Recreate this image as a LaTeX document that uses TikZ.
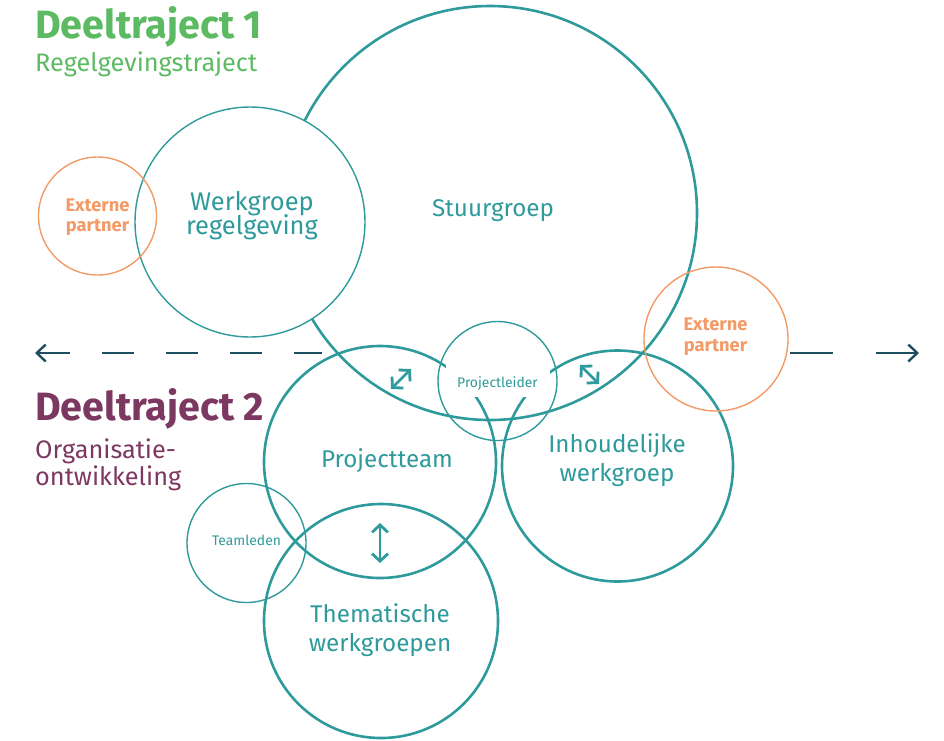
\documentclass[tikz,border=0pt]{standalone}
\usepackage{fontspec}
\setmainfont{Fira Sans}
\usepackage{xcolor}
\usetikzlibrary{arrows.meta}

\definecolor{vlteal}{HTML}{2F9A9B}
\definecolor{vloranje}{HTML}{F39A66}
\definecolor{vlgroen}{HTML}{5CBA62}
\definecolor{vlpaars}{HTML}{7D3861}
\definecolor{vldonker}{HTML}{1E4E5F}

\newcommand{\strak}{\lineskiplimit=-50pt\relax}

\tikzset{
  groot/.style    = {circle, draw=vlteal, line width=2.6pt, inner sep=0pt},
  klein/.style    = {circle, draw=vlteal, line width=1.4pt, inner sep=0pt},
  extern/.style   = {circle, draw=vloranje, line width=1.4pt, inner sep=0pt},
  tekst/.style    = {text=vlteal, align=center, inner sep=0pt,
                     font=\fontsize{24.2}{29}\selectfont\strak},
  kleintekst/.style = {text=vlteal, inner sep=0pt, font=\fontsize{13.9}{16}\selectfont},
  externtekst/.style = {text=vloranje, align=center, inner sep=0pt,
                     font=\bfseries\fontsize{18.3}{20.5}\selectfont\strak},
  tijdlijn/.style = {draw=vldonker, line width=2.4pt,
                     arrows={-Straight Barb[length=9pt,width=17pt]}},
  pijl/.style     = {draw=vlteal, line width=2.8pt,
                     arrows={Straight Barb[length=7.5pt,width=16pt]-Straight Barb[length=7.5pt,width=16pt]}},
  titel/.style    = {anchor=base west, inner sep=0pt, font=\bfseries\fontsize{39.5}{44}\selectfont},
  ondertitel/.style = {anchor=base west, inner sep=0pt, font=\fontsize{25.3}{29}\selectfont}
}

\begin{document}
\begin{tikzpicture}[x=1pt, y=-1pt]
%\draw[help lines] (0,0) grid (944,740);
\useasboundingbox (0,0) rectangle (944,740);

% tijdlijn
\coordinate (links)  at (35,353);
\coordinate (linksstop) at (322,353);
\coordinate (rechtsstart) at (790,353);
\coordinate (rechts) at (919,353);
\draw[tijdlijn, dash pattern=on 32pt off 32pt, arrows={Straight Barb[length=9pt,width=17pt]-}] (links) -- (linksstop);
\draw[tijdlijn, dash pattern=on 43pt off 43pt] (rechtsstart) -- (rechts);

% deeltraject 1
\node[groot, minimum size=414pt] (stuur) at (490,213) {};
\node[klein, fill=white, minimum size=230pt] (werk) at (250,222) {};
\node[extern, minimum size=118pt] (extern1) at (97.5,216) {};

% deeltraject 2
\node[groot, minimum size=232pt] (pteam)  at (380,462) {};
\node[groot, minimum size=231pt] (inhoud) at (617.5,466) {};
\node[groot, minimum size=234pt] (thema)  at (381,621) {};
\node[klein, minimum size=119pt] (leden)  at (246.5,543) {};
\node[klein, minimum size=119pt] (leider) at (497.5,381) {};
\node[extern, minimum size=144pt] (extern2) at (716,339) {};

% teksten
\node[tekst, anchor=base] (stuurtekst) at (493,216) {Stuurgroep};
\node[tekst, anchor=base, font=\fontsize{25.5}{20}\selectfont\strak] (werktekst) at (252,234) {Werkgroep\\[4pt]regelgeving};
\node[externtekst, anchor=base] (extern1tekst) at (97.5,231.5) {Externe\\partner};
\node[externtekst, anchor=base] (extern2tekst) at (715.5,351) {Externe\\partner};
\node[fill=white, minimum width=104pt, minimum height=32pt, inner sep=0pt] (leiderbox) at (498,381) {};
\node[kleintekst, anchor=base] (leidertekst) at (497.5,387) {Projectleider};
\node[tekst, anchor=base] (pteamtekst) at (387,467) {Projectteam};
\node[tekst, anchor=base] (inhoudtekst) at (617,481) {Inhoudelijke\\werkgroep};
\node[tekst, anchor=base] (thematekst) at (380,651) {Thematische\\werkgroepen};
\node[kleintekst, anchor=base] (ledentekst) at (246.5,545) {Teamleden};

% pijlen
\coordinate (p1a) at (391,389);
\coordinate (p1b) at (411,369);
\coordinate (p2a) at (580,365);
\coordinate (p2b) at (599,384);
\coordinate (p3a) at (380,523);
\coordinate (p3b) at (380,563);
\draw[pijl] (p1a) -- (p1b);
\draw[pijl] (p2a) -- (p2b);
\draw[pijl] (p3a) -- (p3b);

% titels
\node[titel, text=vlgroen] (dt1) at (35,38) {Deeltraject 1};
\node[ondertitel, text=vlgroen] (dt1sub) at (35,71.5) {Regelgevingstraject};
\node[titel, text=vlpaars] (dt2) at (35,420) {Deeltraject 2};
\node[ondertitel, text=vlpaars] (dt2sub1) at (35,458) {Organisatie-};
\node[ondertitel, text=vlpaars] (dt2sub2) at (35,485) {ontwikkeling};
\end{tikzpicture}
\end{document}
